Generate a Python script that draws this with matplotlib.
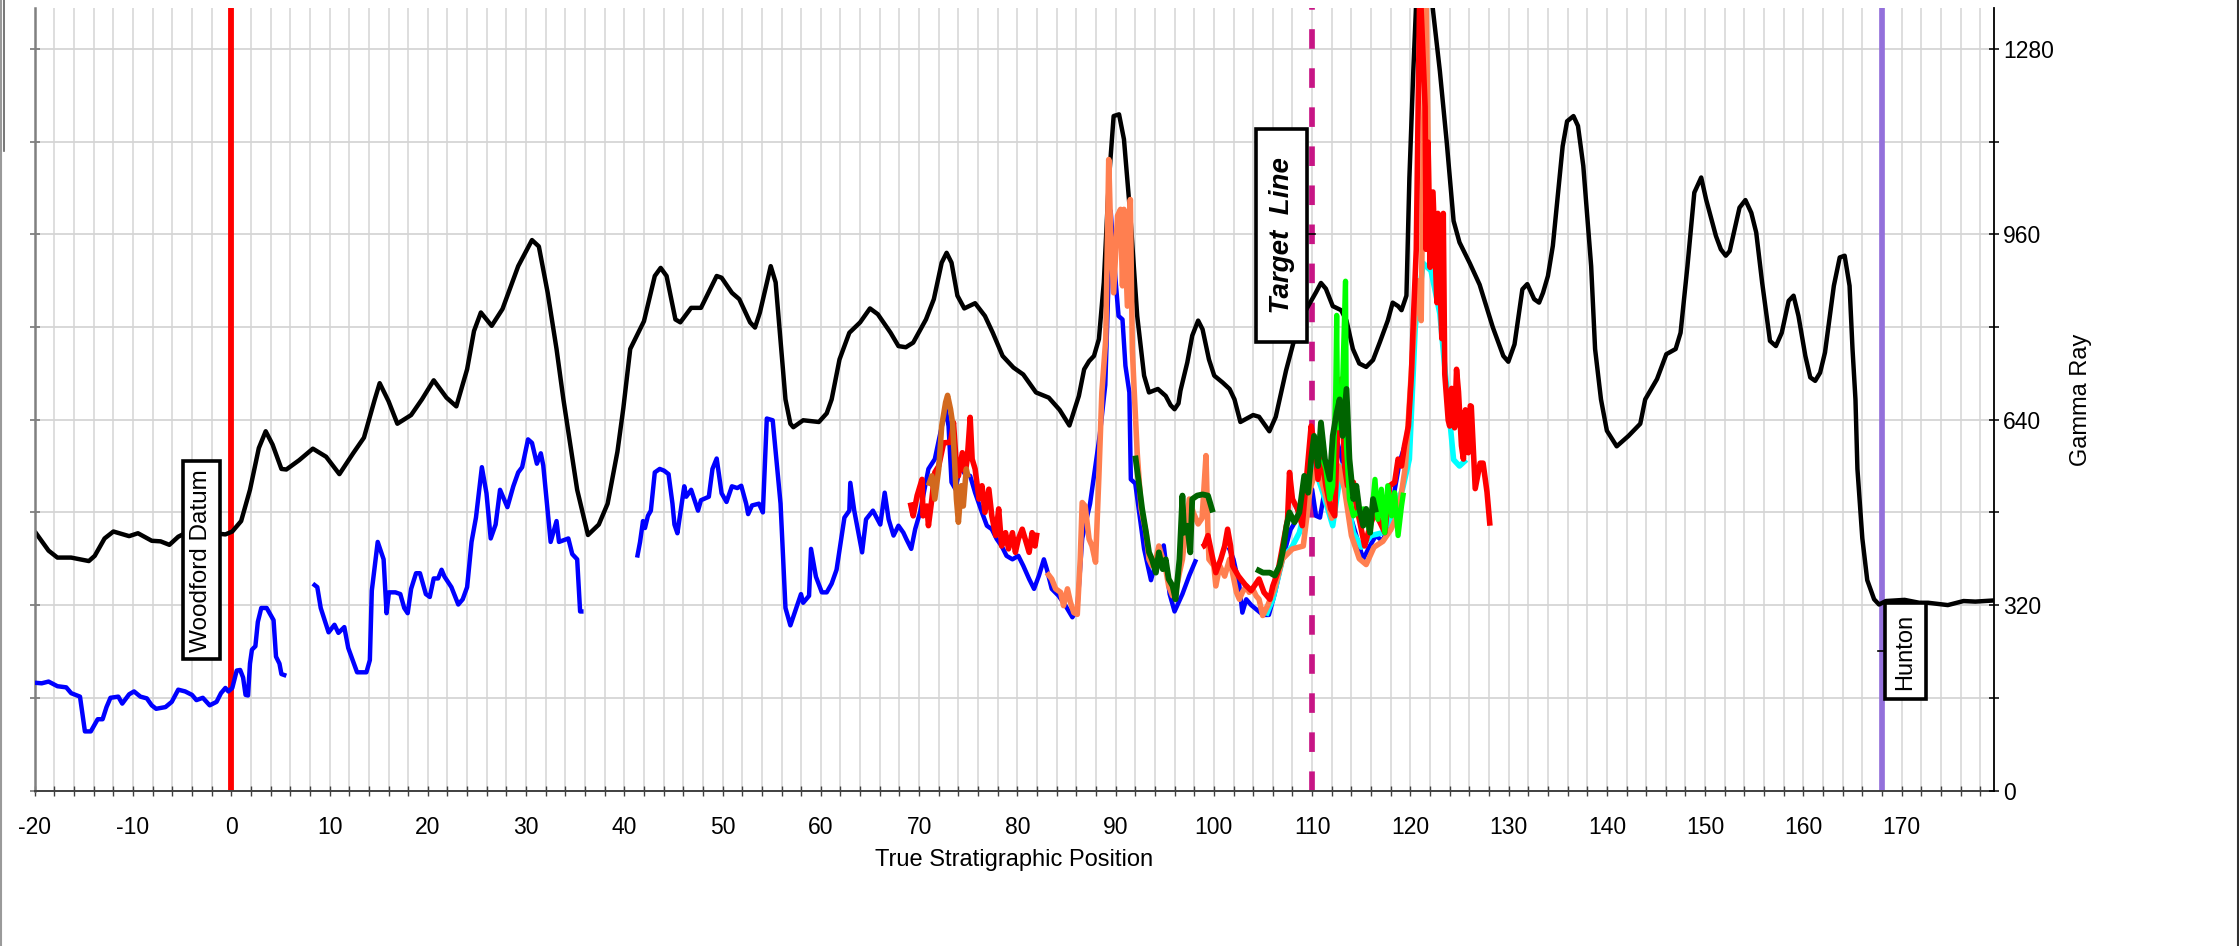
import numpy as np
import matplotlib
matplotlib.use("Agg")
import matplotlib.pyplot as plt
from matplotlib.ticker import MultipleLocator
from matplotlib.lines import Line2D

plt.rcParams['font.family'] = ['Liberation Sans', 'DejaVu Sans']
plt.rcParams['axes.unicode_minus'] = False

# ---------------- data ----------------
# Reference (type) log - black
ref_x = [-20, -18.6, -17.7, -16.3, -14.5, -13.9, -12.9, -12.0, -10.4, -9.5, -8.1, -7.2, -6.3, -5.4, -4.0, -2.5,
         -0.6, 0.1, 1.0, 1.9, 2.8, 3.5, 4.2, 5.1, 5.6, 6.9, 8.3, 9.65, 11.0, 12.4, 13.5, 14.6, 15.1, 16.0, 16.9,
         18.3, 19.4, 20.6, 21.9, 22.9, 24.0, 24.7, 25.4, 26.5, 27.6, 29.2, 30.6, 31.3, 32.2, 33.1, 33.8, 35.2,
         36.3, 37.4, 38.3, 39.3, 39.9, 40.6, 42.0, 43.1, 43.7, 44.3, 45.2, 45.7, 46.8, 47.8, 49.4, 49.9, 50.95,
         51.7, 52.8, 53.3, 53.8, 54.9, 55.4, 56.4, 56.9, 57.2, 58.2, 59.8, 60.6, 61.1, 61.9, 62.9, 64.0, 65.0,
         65.8, 67.1, 67.9, 68.65, 69.4, 70.7, 71.5, 72.3, 72.8, 73.3, 73.9, 74.6, 75.7, 76.7, 77.5, 78.5, 79.6,
         80.6, 81.9, 83.2, 84.3, 85.3, 86.26, 86.8, 87.3, 87.8, 88.3, 88.8, 89.3, 89.8, 90.35, 90.85, 91.5, 92.2,
         92.9, 93.4, 94.3, 95.1, 95.6, 96.0, 96.4, 96.6, 97.3, 97.8, 98.4, 98.85, 99.5, 100.04, 100.9, 101.6,
         102.1, 102.7, 104.0, 104.6, 105.65, 106.3, 107.35, 108.4, 109.4, 110.4, 110.9, 111.4, 112.1, 112.95,
         113.5, 114.15, 114.8, 115.5, 116.2, 116.9, 117.7, 118.2, 118.75, 119.1, 119.6, 119.9, 120.3, 120.6,
         121.4, 122.3, 123.0, 123.7, 124.4, 125.0, 126.05, 127.05, 128.4, 129.46, 129.97, 130.6, 131.4, 131.9,
         132.6, 133.1, 133.5, 134.0, 134.5, 135.5, 135.95, 136.6, 137.06, 137.6, 138.4, 138.8, 139.4, 140.0,
         141.0, 142.2, 143.4, 143.9, 145.1, 146.05, 147.0, 147.5, 148.2, 148.9, 149.6, 150.1, 151.1, 151.6,
         152.1, 152.5, 153.5, 154.1, 154.7, 155.2, 155.8, 156.6, 157.2, 157.8, 158.5, 159.0, 159.5, 160.2,
         160.7, 161.2, 161.7, 162.2, 163.1, 163.7, 164.2, 164.7, 165.0, 165.3, 165.5, 166.0, 166.5, 167.2,
         167.7, 168.4, 170.3, 171.8, 172.7, 174.7, 176.3, 177.5, 179.4]
ref_gr = [447, 414, 402, 402, 396, 405, 435, 447, 439, 444, 431, 430, 424, 438, 450, 445,
          442, 447, 465, 519, 591, 620, 597, 555, 554, 570, 590, 576, 546, 582, 609, 675, 703, 672, 633,
          648, 675, 708, 678, 663, 727, 793, 825, 802, 831, 905, 950, 939, 859, 762, 675, 519,
          441, 459, 495, 585, 660, 762, 810, 888, 902, 888, 813, 808, 833, 833, 888, 885, 859,
          848, 808, 799, 825, 905, 877, 675, 633, 627, 639, 636, 651, 675, 744, 790, 808, 832,
          822, 790, 767, 765, 773, 813, 848, 911, 928, 911, 854, 832, 841, 819, 790, 750, 730,
          718, 687, 678, 657, 630, 681, 727, 741, 750, 779, 877, 1049, 1164, 1167, 1124, 992, 819,
          716, 687, 693, 681, 665, 658, 668, 690, 739, 785, 811, 796, 744, 716, 704, 693,
          675, 636, 648, 645, 620, 645, 725, 792, 830, 860, 876, 866, 836, 829,
          811, 762, 737, 731, 743, 774, 811, 842, 836, 829, 854, 1057, 1242, 1365,
          1480, 1347, 1242, 1119, 983, 946, 910, 873, 799, 750, 740, 770, 865, 874,
          848, 842, 859, 888, 940, 1112, 1155, 1164, 1147, 1078, 905, 762, 675, 621,
          594, 612, 633, 675, 710, 753, 762, 790, 905, 1032, 1058, 1020, 957, 934,
          923, 931, 1006, 1019, 997, 963, 877, 776, 767, 790, 845, 854, 819, 750,
          713, 707, 721, 756, 871, 920, 923, 871, 762, 675, 555, 435, 363, 330,
          321, 327, 329, 324, 324, 320, 327, 326, 328]

nan = np.nan
# Well gamma ray (blue) with gaps
blue_x = [-20, -19.3, -18.6, -17.7, -16.8, -16.3, -15.4, -14.9, -14.3, -13.6, -13.1, -12.7, -12.3, -11.5, -11.1,
          -10.4, -9.9, -9.25, -8.6, -8.1, -7.65, -6.7, -6.06, -5.4, -4.7, -4.0, -3.55, -2.9, -2.2, -1.5, -1.05,
          -0.6, -0.3, 0.1, 0.55, 0.9, 1.2, 1.45, 1.7, 1.9, 2.1, 2.45, 2.7, 3.05, 3.6, 4.3, 4.55, 4.9, 5.1, 5.6,
          6.5,
          8.3, 8.75, 9.1, 9.9, 10.5, 10.9, 11.5, 11.9, 12.8, 13.75, 14.1, 14.3, 14.9, 15.5, 15.8, 16.04, 16.7,
          17.2, 17.6, 17.95, 18.3, 18.8, 19.2, 19.8, 20.2, 20.6, 21.05, 21.4, 21.7, 22.4, 23.1, 23.55, 24.0,
          24.45, 24.9, 25.5, 25.97, 26.4, 26.9, 27.35, 28.1, 28.7, 29.2, 29.6, 30.2, 30.6, 31.1, 31.5, 31.75,
          32.5, 33.1, 33.35, 34.3, 34.7, 35.2, 35.5, 35.85,
          38.0,
          41.3, 41.6, 41.9, 42.1, 42.4, 42.7, 43.1, 43.6, 44.05, 44.5, 44.9, 45.1, 45.4, 46.1, 46.3, 46.8, 47.5,
          47.8, 48.6, 48.97, 49.4, 49.9, 50.4, 50.95, 51.5, 51.9, 52.4, 52.6, 53.0, 53.7, 54.1, 54.5, 55.1, 55.9,
          56.4, 56.9, 57.5, 57.98, 58.2, 58.8, 59.0, 59.5, 60.1, 60.6, 61.1, 61.6, 62.4, 62.9, 63.0, 63.4, 64.2,
          64.6, 65.3, 66.05, 66.5, 66.9, 67.4, 67.9, 68.4, 68.7, 69.2, 69.6, 70.1, 70.95, 71.6, 72.1, 72.7, 73.0,
          73.3, 73.7, 74.2, 74.7, 75.2, 75.7, 76.4, 76.9, 77.4, 77.9, 78.4, 78.9, 79.5, 80.1, 80.6, 81.2, 81.7,
          82.2, 82.7, 83.0, 83.5, 84.2, 84.9, 85.6, 86.1, 86.6, 87.4, 88.4, 88.95, 89.5, 90.0, 90.3, 90.7, 91.0,
          91.4, 91.55, 92.0, 92.9, 93.6, 94.2, 94.9, 95.5, 96.0, 96.8, 97.5, 98.2,
          100.0,
          101.5, 102.0, 102.6, 102.9, 103.3, 103.8, 104.5, 105.0, 105.6, 106.2, 107.0, 107.8, 108.5, 109.2,
          110.0, 110.4, 110.8, 111.5, 112.0, 112.6, 113.2, 113.8, 114.5, 115.2, 115.8, 116.5, 117.2, 118.0,
          118.9, 119.5]
blue_gr = [186, 185, 188, 180, 178, 168, 162, 102, 102, 123, 123, 144, 160, 162, 150,
           166, 171, 162, 159, 147, 141, 144, 153, 174, 171, 165, 156, 160, 147, 153, 168,
           177, 171, 177, 207, 208, 195, 165, 164, 219, 243, 249, 291, 315, 315, 294, 231, 219, 201, 198,
           nan,
           357, 351, 315, 273, 286, 272, 282, 246, 204, 204, 225, 345, 429, 399, 306, 342, 342,
           339, 315, 306, 348, 375, 375, 339, 334, 366, 366, 381, 369, 351, 321, 330, 351,
           429, 471, 558, 513, 435, 459, 519, 489, 525, 549, 558, 606, 600, 564, 582, 561,
           429, 465, 429, 435, 408, 399, 309, 309,
           nan,
           402, 429, 465, 453, 474, 483, 549, 555, 552, 546, 495, 459, 444, 525, 507, 519, 483,
           501, 507, 555, 573, 513, 498, 525, 522, 526, 495, 477, 492, 495, 480, 642, 639, 495,
           315, 285, 315, 339, 324, 336, 417, 369, 342, 342, 357, 381, 471, 483, 531, 483, 411,
           468, 483, 459, 514, 468, 440, 457, 445, 434, 417, 451, 480, 555, 572, 612, 658, 629,
           532, 520, 560, 545, 543, 514, 480, 457, 451, 434, 422, 405, 399, 405, 388, 365, 348,
           371, 399, 382, 348, 336, 319, 299, 313, 435, 495, 615, 700, 1000, 880, 819, 813, 733,
           687, 537, 530, 417, 363, 400, 423, 339, 309, 339, 371, 399,
           nan,
           420, 399, 353, 307, 330, 320, 310, 303, 303, 340, 400, 450, 470, 500,
           520, 474, 471, 540, 480, 600, 560, 480, 440, 399, 420, 440, 430, 480,
           566, 600]

# Red lateral
red_x = [69.1, 69.4, 69.8, 70.3, 70.4, 70.8, 70.95, 71.3, 71.6, 72.0, 72.5, 73.2, 73.5, 73.8, 74.0, 74.4, 74.7,
         74.9, 75.2, 75.4, 75.7, 76.1, 76.4, 76.7, 77.1, 77.4, 77.8, 78.1, 78.4, 78.8, 79.1, 79.5, 79.8, 80.1,
         80.5, 80.8, 81.2, 81.5, 81.8, 82.0,
         90.0,
         98.8, 99.0, 99.4, 99.9, 100.2, 100.7, 101.1, 101.4, 101.7, 101.9, 102.5, 103.2, 103.8, 104.6, 105.1,
         105.7, 106.0, 106.5, 107.0, 107.5, 107.7, 108.0, 108.5, 109.0, 109.6, 109.9, 110.2, 110.6, 110.9,
         111.4, 111.9, 112.3, 112.6, 112.95, 113.3, 113.6, 114.2, 114.5, 114.8, 115.35, 115.9, 116.4, 116.9,
         117.4, 117.9, 118.4, 118.75, 119.1, 119.4, 119.8, 120.1, 120.3, 120.6, 120.95, 121.1, 121.5, 121.6,
         121.8, 122.0, 122.3, 122.7, 122.8, 123.2, 123.35, 123.5, 123.85, 124.0, 124.2, 124.5, 124.7, 124.9,
         125.2, 125.4, 125.6, 125.9, 126.1, 126.2, 126.6, 127.1, 127.4, 127.8, 128.1]
red_gr = [497, 474, 509, 537, 474, 491, 457, 503, 549, 560, 600, 601, 635, 560, 543, 583, 549,
          572, 644, 572, 555, 503, 526, 480, 520, 474, 440, 486, 422, 445, 417, 445, 411, 434,
          451, 434, 411, 445, 422, 445,
          nan,
          420, 422, 440, 399, 376, 399, 422, 451, 422, 388, 370, 355, 345, 365, 342,
          330, 353, 376, 422, 468, 549, 503, 486, 457, 572, 629, 601, 537, 583,
          526, 486, 474, 629, 710, 560, 526, 532, 491, 468, 422, 457, 480, 463,
          445, 526, 532, 572, 560, 595, 629, 716, 811, 934, 1380, 1347, 1180, 934,
          1119, 903, 1033, 842, 996, 780, 996, 719, 639, 629, 694, 626, 727, 688,
          595, 572, 657, 583, 664, 663, 521, 565, 565, 515, 457]

# Chocolate lateral
choc_x = [70.95, 71.3, 71.6, 72.0, 72.3, 72.7, 72.9, 73.2, 73.4, 73.6, 73.8, 74.0, 74.3, 74.5, 74.8, 75.0]
choc_gr = [526, 543, 503, 555, 629, 670, 682, 658, 635, 572, 503, 463, 526, 491, 555, 540]

# Coral lateral
coral_x = [83.0, 83.5, 83.9, 84.4, 84.7, 85.1, 85.4, 85.75, 86.1, 86.4, 86.6, 86.9, 87.3, 87.6, 87.96, 88.3,
           88.6, 89.0, 89.3, 89.5, 89.8, 90.2, 90.5, 90.7, 90.85, 91.2, 91.5, 91.7, 91.9, 92.2, 92.6, 93.1,
           93.4, 93.7, 94.1, 94.4, 94.8, 95.1, 95.4, 95.8, 96.1, 96.5, 96.8, 97.1, 97.5, 97.9, 98.4, 98.8,
           99.2, 99.4, 99.5, 100.0, 100.2, 100.6, 101.1, 101.6, 101.9, 102.3, 102.6, 102.9, 103.3, 103.6,
           103.95, 104.3, 104.6, 104.97, 105.5, 106.2, 107.0, 108.0, 109.1, 109.8, 110.5, 111.2, 112.0,
           112.7, 113.3, 114.0, 114.8, 115.5, 116.3, 117.2, 118.0, 118.8, 119.5, 120.2, 120.7, 121.1, 121.3,
           121.6, 121.9, 122.3]
coral_gr = [376, 365, 348, 342, 319, 348, 325, 307, 304, 399, 497, 491, 434, 422, 394, 543,
            687, 780, 1089, 963, 859, 992, 1003, 871, 1003, 836, 1020, 762, 687, 583, 486, 445,
            399, 388, 399, 422, 399, 382, 353, 336, 342, 376, 399, 445, 503, 480, 460, 470,
            578, 445, 399, 388, 353, 388, 370, 399, 376, 342, 330, 342, 353, 342,
            348, 336, 330, 302, 320, 350, 400, 417, 422, 520, 560, 520, 470,
            560, 520, 440, 400, 390, 420, 430, 450, 480, 560, 750, 880, 811, 1100,
            1380, 1000, 900]

# Dark green lateral
dkgreen_x = [92.0, 92.4, 92.7, 93.1, 93.4, 93.7, 94.1, 94.4, 94.8, 95.1, 95.4, 95.8, 96.1, 96.5, 96.8, 96.97,
             97.3, 97.6, 97.8, 98.3, 98.85, 99.4, 99.9,
             102.0,
             104.3, 105.0, 105.7, 106.2, 106.7, 107.0, 107.4, 107.7, 108.2, 108.7, 109.2, 109.6, 109.9,
             110.2, 110.6, 110.9, 111.3, 111.8, 112.1, 112.5, 112.8, 113.1, 113.5, 113.8, 114.2, 114.5,
             114.8, 115.2, 115.5, 115.9, 116.2, 116.5]
dkgreen_gr = [578, 526, 486, 445, 411, 399, 376, 411, 382, 399, 365, 353, 330, 399, 509, 445,
              457, 411, 503, 509, 511, 509, 480,
              nan,
              382, 376, 376, 371, 388, 411, 457, 480, 463, 480, 543, 514, 572,
              612, 560, 635, 572, 537, 612, 652, 675, 612, 693, 572, 503, 526,
              486, 457, 486, 445, 503, 480]

# Lime green lateral
lime_x = [111.1, 111.4, 111.8, 112.1, 112.4, 112.5, 112.6, 113.0, 113.4, 113.5, 113.8, 114.2, 114.6, 115.2,
          115.9, 116.4, 116.7, 117.05, 117.4, 117.7, 118.1, 118.4, 118.75, 119.1, 119.3]
lime_gr = [572, 555, 503, 526, 687, 820, 626, 640, 879, 595, 503, 474, 480, 486,
           445, 537, 468, 520, 445, 526, 474, 514, 440, 491, 514]

# Cyan lateral
cyan_x = [105.3, 106.0, 107.0, 108.0, 108.7, 109.5, 110.2, 111.1, 112.1, 113.0, 114.2, 115.0, 116.0, 117.2,
          118.3, 119.2, 119.9, 120.5, 121.3, 122.1, 123.0, 123.7, 124.4, 125.0, 125.7]
cyan_gr = [302, 330, 400, 422, 445, 500, 560, 514, 457, 560, 445, 420, 440, 445,
           480, 520, 572, 800, 910, 897, 823, 694, 571, 560, 571]

# markers
woodford_x = 0
target_x = 110
hunton_x = 168

x_ticks = list(range(-20, 180, 10))
y_ticks_right = [0, 320, 640, 960, 1280]

# ---------------- figure ----------------
W_PX, H_PX = 2239, 946
fig = plt.figure(figsize=(W_PX / 100, H_PX / 100), dpi=100)
ax_l, ax_r, ax_t, ax_b = 34.8, 1994.0, 8.3, 790.5
ax = fig.add_axes([ax_l / W_PX, 1 - ax_b / H_PX, (ax_r - ax_l) / W_PX, (ax_b - ax_t) / H_PX])

XMIN, XMAX, YMIN, YMAX = -20, 179.4, 0, 1350
ax.set_xlim(XMIN, XMAX)
ax.set_ylim(YMIN, YMAX)

grid_c = '#d5d5d5'
ax.xaxis.set_major_locator(MultipleLocator(10))
ax.xaxis.set_minor_locator(MultipleLocator(2))
ax.yaxis.set_major_locator(MultipleLocator(160))
ax.grid(True, which='both', axis='x', color=grid_c, lw=1.1)
ax.grid(True, which='major', axis='y', color=grid_c, lw=1.3)
ax.set_axisbelow(True)

ax.spines['top'].set_visible(False)
ax.spines['right'].set_visible(False)
ax.spines['left'].set_color('#808080')
ax.spines['left'].set_linewidth(1.8)
ax.spines['bottom'].set_color('#404040')
ax.spines['bottom'].set_linewidth(1.4)

ax.set_xticks(x_ticks)
ax.set_xticklabels([str(t) for t in x_ticks])
ax.tick_params(axis='x', which='both', direction='inout', length=6.5, width=1.0, color='#404040',
               labelsize=16.5, pad=15.0, labelcolor='black')
ax.tick_params(axis='y', which='both', direction='inout', length=7, width=1.3, color='#808080',
               labelleft=False, left=True, right=False)

ax.set_xlabel('True Stratigraphic Position', fontsize=17)
ax.xaxis.set_label_coords(0.5, -0.0883)
ax.xaxis.label.set_va('center')

# right axis
ax2 = ax.twinx()
ax2.set_ylim(YMIN, YMAX)
ax2.set_yticks(y_ticks_right)
ax2.yaxis.set_minor_locator(MultipleLocator(160))
ax2.tick_params(axis='y', which='both', direction='inout', length=6.8, width=1.1, color='black',
                labelsize=16.5, pad=3.3)
for s in ['top', 'left', 'bottom']:
    ax2.spines[s].set_visible(False)
ax2.spines['right'].set_color('black')
ax2.spines['right'].set_linewidth(1.3)
ax2.set_ylabel('Gamma Ray', fontsize=17)
ax2.yaxis.set_label_coords((2080.5 - ax_l) / (ax_r - ax_l), 0.5)
ax2.yaxis.label.set_va('center')
ax2.yaxis.label.set_ha('center')

# vertical marker lines
ax.plot([woodford_x, woodford_x], [YMIN, YMAX], color='#ff0000', lw=4.2, zorder=1.6, solid_capstyle='butt')
ax.plot([hunton_x, hunton_x], [YMIN, YMAX], color='#9370db', lw=4.1, zorder=1.6, solid_capstyle='butt')
ax.plot([target_x, target_x], [YMIN, YMAX], color='#c71585', lw=4.1, zorder=1.6,
        dashes=(3.44, 3.42), dash_capstyle='butt')

# curves
kw = dict(solid_joinstyle='round', solid_capstyle='butt')
ax.plot(ref_x, ref_gr, color='black', lw=3.2, zorder=2, **kw)
ax.plot(blue_x, blue_gr, color='#0000ff', lw=3.2, zorder=3, **kw)
ax.plot(cyan_x, cyan_gr, color='#00ffff', lw=4.0, zorder=4, **kw)
ax.plot(coral_x, coral_gr, color='#ff7f50', lw=4.0, zorder=5, **kw)
ax.plot(red_x, red_gr, color='#ff0000', lw=4.0, zorder=6, **kw)
ax.plot(choc_x, choc_gr, color='#d2691e', lw=4.0, zorder=7, **kw)
ax.plot(lime_x, lime_gr, color='#00ff00', lw=3.8, zorder=8, **kw)
ax.plot(dkgreen_x, dkgreen_gr, color='#006400', lw=4.2, zorder=9, **kw)

# labels in boxes
box = dict(boxstyle='square,pad=0.32', fc='white', ec='black', lw=2.6)
ax.text(-3.04, 397.6, 'Woodford Datum', rotation=90, ha='center', va='center', fontsize=17.5,
        bbox=box, zorder=20)
ax.text(106.9, 958, '  Target  Line  ', rotation=90, ha='center', va='center', fontsize=20,
        fontweight='bold', fontstyle='italic', bbox=dict(boxstyle='square,pad=0.45', fc='white',
        ec='black', lw=2.6), zorder=20)
ax.plot([109.4, 110.3], [960, 960], color='black', lw=1.2, zorder=19)
ax.text(170.4, 240, 'Hunton', rotation=90, ha='center', va='center', fontsize=17,
        bbox=dict(boxstyle='square,pad=0.42', fc='white', ec='black', lw=2.6), zorder=20)
ax.plot([167.6, 168.1], [241, 241], color='black', lw=1.2, zorder=19)

# window frame edges
fig.add_artist(Line2D([1.0 / W_PX, 1.0 / W_PX], [0, 1], color='#9a9a9a', lw=1.5))
fig.add_artist(Line2D([3.5 / W_PX, 3.5 / W_PX], [1 - 151 / H_PX, 1], color='#606060', lw=1.2))
fig.add_artist(Line2D([1 - 1.0 / W_PX, 1 - 1.0 / W_PX], [0, 1], color='#303030', lw=1.5))

fig.savefig('out.png', dpi=100)
